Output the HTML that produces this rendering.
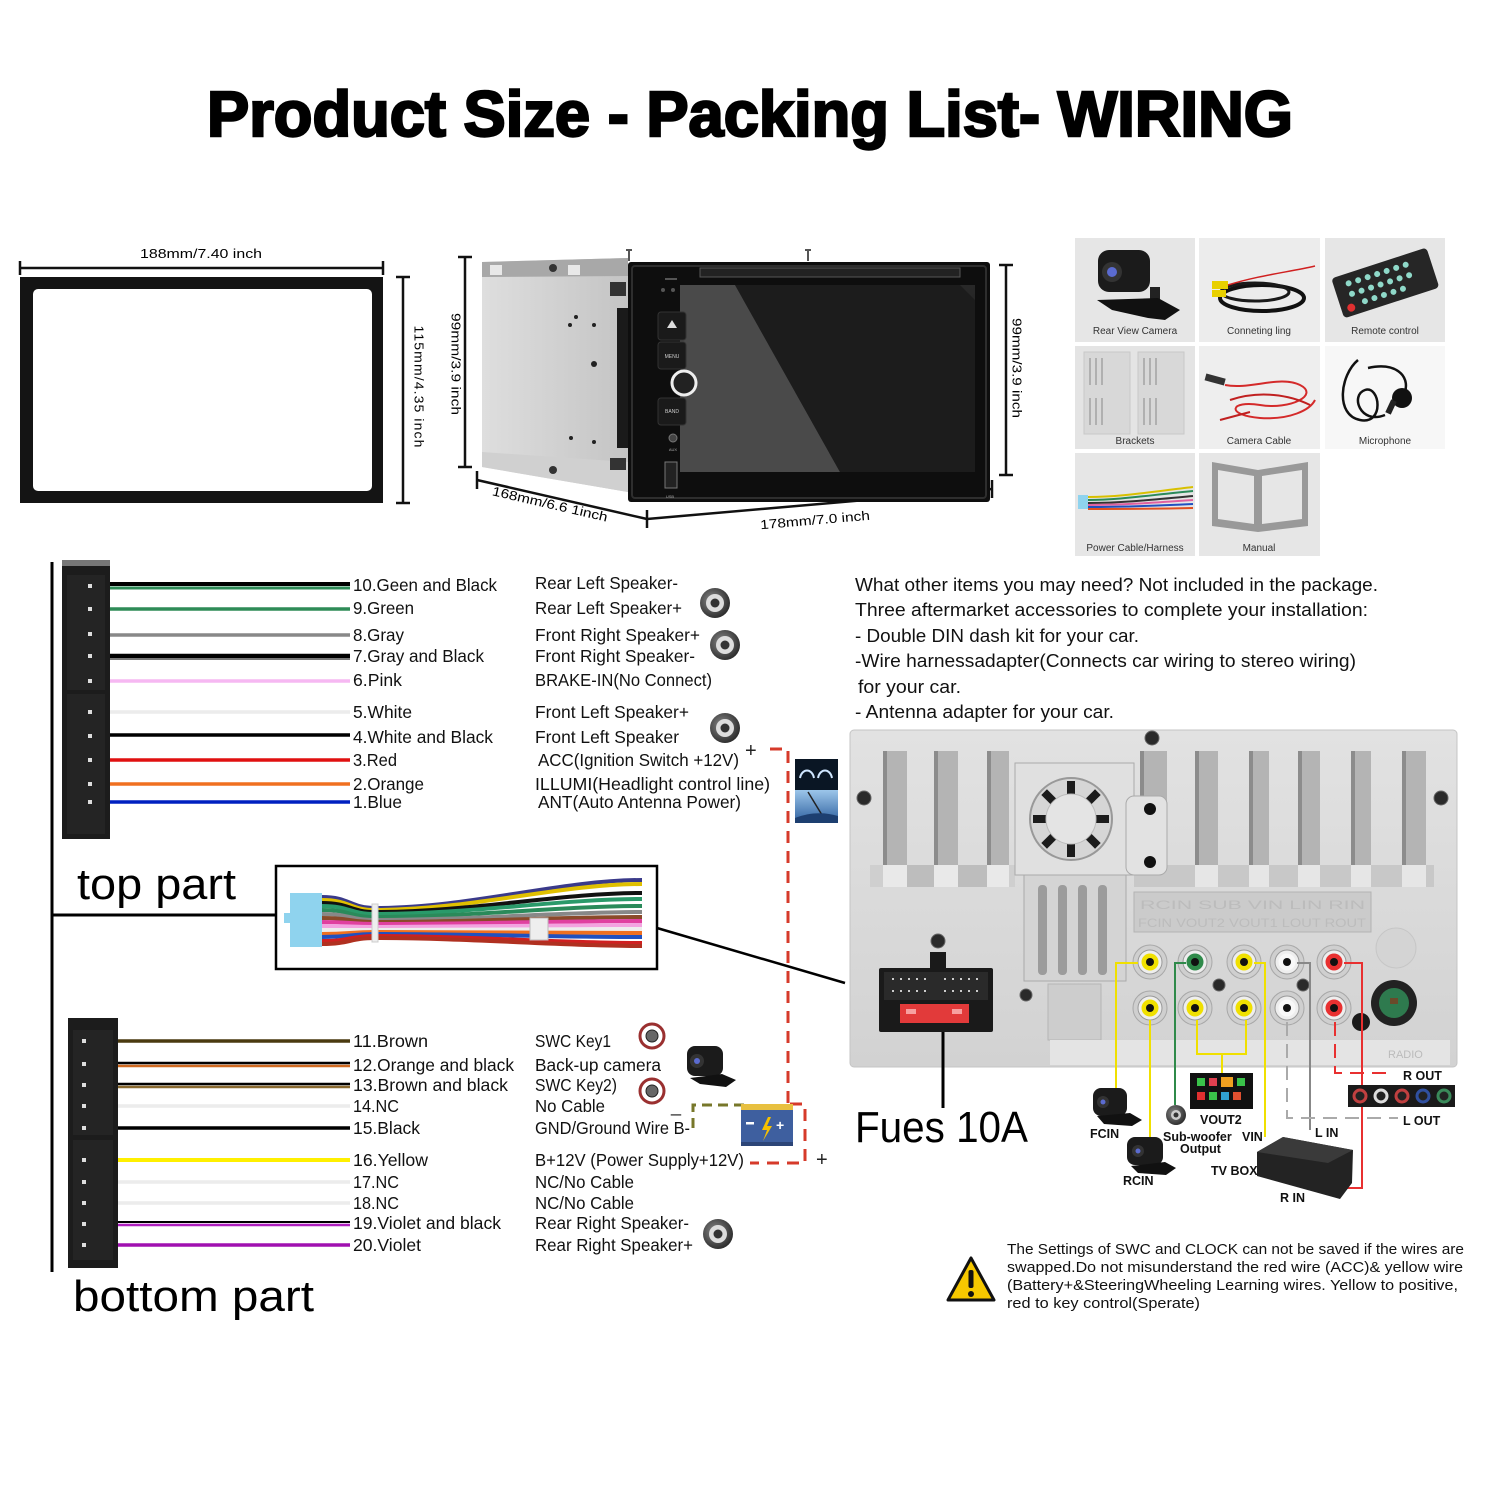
<!DOCTYPE html>
<html><head><meta charset="utf-8"><style>
html,body{margin:0;padding:0;background:#fff;}
svg{display:block}
text{font-family:"Liberation Sans",sans-serif;}
</style></head><body>
<svg width="1500" height="1500" viewBox="0 0 1500 1500" xmlns="http://www.w3.org/2000/svg">
<defs>
<linearGradient id="chas" x1="0" y1="0" x2="1" y2="0"><stop offset="0" stop-color="#dedede"/><stop offset="1" stop-color="#c4c4c4"/></linearGradient>
<linearGradient id="scr" x1="0" y1="0" x2="1" y2="1"><stop offset="0" stop-color="#3a3a3a"/><stop offset="1" stop-color="#151515"/></linearGradient>
<linearGradient id="panel" x1="0" y1="0" x2="0" y2="1"><stop offset="0" stop-color="#e2e2e2"/><stop offset="1" stop-color="#d2d2d2"/></linearGradient>
<linearGradient id="sky" x1="0" y1="0" x2="0" y2="1"><stop offset="0" stop-color="#9cc6ea"/><stop offset="1" stop-color="#2d5f9e"/></linearGradient>
<radialGradient id="spk" cx="0.4" cy="0.4" r="0.7"><stop offset="0" stop-color="#888"/><stop offset="1" stop-color="#222"/></radialGradient>
</defs>

<!-- TITLE -->
<text x="207" y="136" font-size="64" font-weight="bold" stroke="#000" stroke-width="2.4" textLength="1086" lengthAdjust="spacingAndGlyphs">Product Size - Packing List- WIRING</text>

<!-- FRAME -->
<rect x="20" y="277" width="363" height="226" fill="#141414"/>
<rect x="33" y="289" width="339" height="202" rx="5" fill="#fff"/>
<g stroke="#111" stroke-width="2.5">
<line x1="20" y1="268" x2="383" y2="268"/><line x1="20" y1="261" x2="20" y2="275"/><line x1="383" y1="261" x2="383" y2="275"/>
<line x1="403" y1="277" x2="403" y2="503"/><line x1="396" y1="277" x2="410" y2="277"/><line x1="396" y1="503" x2="410" y2="503"/>
<line x1="465" y1="257" x2="465" y2="467"/><line x1="458" y1="257" x2="472" y2="257"/><line x1="458" y1="467" x2="472" y2="467"/>
<line x1="1006" y1="265" x2="1006" y2="475"/><line x1="999" y1="265" x2="1013" y2="265"/><line x1="999" y1="475" x2="1013" y2="475"/>
<line x1="477" y1="480" x2="647" y2="519"/><line x1="477" y1="471" x2="477" y2="489"/>
<line x1="647" y1="519" x2="992" y2="489"/><line x1="647" y1="510" x2="647" y2="528"/><line x1="992" y1="480" x2="992" y2="498"/>
</g>
<text x="201" y="258" font-size="13" text-anchor="middle" textLength="122" lengthAdjust="spacingAndGlyphs">188mm/7.40 inch</text>
<text transform="translate(419,387) rotate(90)" font-size="13" text-anchor="middle" dominant-baseline="central" textLength="123" lengthAdjust="spacingAndGlyphs" letter-spacing="1">115mm/4.35 inch</text>
<text transform="translate(456,364) rotate(90)" font-size="13" text-anchor="middle" dominant-baseline="central" textLength="102" lengthAdjust="spacingAndGlyphs">99mm/3.9 inch</text>
<text transform="translate(1017,368) rotate(90)" font-size="13" text-anchor="middle" dominant-baseline="central" textLength="100" lengthAdjust="spacingAndGlyphs">99mm/3.9 inch</text>
<text transform="translate(550,504) rotate(13)" font-size="13" text-anchor="middle" dominant-baseline="central" textLength="118" lengthAdjust="spacingAndGlyphs">168mm/6.6 1inch</text>
<text transform="translate(815,520) rotate(-5)" font-size="13" text-anchor="middle" dominant-baseline="central" textLength="110" lengthAdjust="spacingAndGlyphs">178mm/7.0 inch</text>

<!-- HEAD UNIT -->
<polygon points="482,262 628,258 628,492 482,467" fill="url(#chas)"/>
<polygon points="482,262 628,258 628,276 482,277" fill="#a8a8a8"/>
<polygon points="482,452 628,462 628,492 482,467" fill="#d0d0d0"/>
<rect x="490" y="265" width="12" height="10" fill="#e8e8e8"/><rect x="568" y="265" width="12" height="10" fill="#e8e8e8"/>
<circle cx="553" cy="268" r="4" fill="#333"/><circle cx="553" cy="470" r="4" fill="#333"/>
<circle cx="576" cy="317" r="2" fill="#222"/><circle cx="570" cy="325" r="2" fill="#222"/><circle cx="594" cy="325" r="2" fill="#222"/><circle cx="594" cy="364" r="3" fill="#222"/><circle cx="571" cy="438" r="2" fill="#222"/><circle cx="594" cy="442" r="2" fill="#222"/>
<rect x="610" y="282" width="16" height="14" fill="#333"/><rect x="610" y="458" width="16" height="12" fill="#333"/>
<rect x="617" y="308" width="12" height="140" fill="#1a1a1a"/>
<rect x="626" y="249" width="6" height="2" fill="#555"/><rect x="628" y="249" width="2" height="12" fill="#555"/>
<rect x="805" y="249" width="6" height="2" fill="#555"/><rect x="807" y="249" width="2" height="12" fill="#555"/>
<rect x="628" y="262" width="362" height="240" rx="3" fill="#0e0e0e"/>
<rect x="632" y="266" width="354" height="232" rx="3" fill="none" stroke="#2e2e2e" stroke-width="2"/>
<rect x="700" y="268" width="260" height="9" fill="#222" stroke="#555" stroke-width="1"/>
<rect x="665" y="278" width="12" height="2" fill="#555"/>
<rect x="680" y="285" width="295" height="187" fill="url(#scr)"/>
<polygon points="680,285 735,285 840,472 680,472" fill="#4a4a4a"/>
<polygon points="735,285 960,285 975,300 975,472 840,472" fill="#1c1c1c"/>
<rect x="658" y="312" width="28" height="28" rx="3" fill="#1a1a1a" stroke="#333"/>
<polygon points="672,320 677,328 667,328" fill="#ddd"/>
<rect x="658" y="342" width="28" height="27" rx="3" fill="#1a1a1a" stroke="#333"/>
<text x="672" y="358" font-size="5" fill="#ccc" text-anchor="middle">MENU</text>
<circle cx="684" cy="383" r="12" fill="#222" stroke="#eee" stroke-width="3"/>
<rect x="658" y="398" width="28" height="27" rx="3" fill="#1a1a1a" stroke="#333"/>
<text x="672" y="413" font-size="5" fill="#ccc" text-anchor="middle">BAND</text>
<circle cx="673" cy="438" r="4" fill="#444" stroke="#777"/>
<text x="673" y="451" font-size="4" fill="#aaa" text-anchor="middle">AUX</text>
<rect x="665" y="462" width="12" height="26" fill="#222" stroke="#777"/>
<text x="670" y="498" font-size="4" fill="#aaa" text-anchor="middle">USB</text>
<circle cx="663" cy="290" r="2" fill="#555"/><circle cx="673" cy="290" r="2" fill="#555"/>

<!-- PACKING LIST -->
<g>
<rect x="1075" y="238" width="120" height="104" fill="#e6e6e6"/>
<rect x="1199" y="238" width="121" height="104" fill="#ececec"/>
<rect x="1325" y="238" width="120" height="104" fill="#e6e6e6"/>
<rect x="1075" y="346" width="120" height="103" fill="#e4e4e4"/>
<rect x="1199" y="346" width="121" height="103" fill="#eeeeee"/>
<rect x="1325" y="346" width="120" height="103" fill="#f7f7f7"/>
<rect x="1075" y="453" width="120" height="103" fill="#e6e6e6"/>
<rect x="1199" y="453" width="121" height="103" fill="#e6e6e6"/>
<!-- camera -->
<rect x="1098" y="250" width="52" height="42" rx="11" fill="#1b1b1b"/>
<circle cx="1112" cy="272" r="10" fill="#333"/><circle cx="1112" cy="272" r="5" fill="#5b6bd0"/>
<rect x="1150" y="287" width="10" height="14" fill="#222"/>
<polygon points="1097,300 1158,298 1180,310 1165,320 1148,318 1112,310" fill="#111"/>
<!-- connecting -->
<ellipse cx="1262" cy="298" rx="42" ry="13" fill="none" stroke="#111" stroke-width="4"/>
<ellipse cx="1255" cy="292" rx="34" ry="9" fill="none" stroke="#1a1a1a" stroke-width="3"/>
<rect x="1212" y="281" width="16" height="8" fill="#e8d000"/><rect x="1212" y="290" width="14" height="7" fill="#e8d000"/>
<path d="M1228,285 C1260,275 1290,272 1315,266" stroke="#d02020" stroke-width="1.5" fill="none"/>
<!-- remote -->
<g transform="rotate(-18 1385 282)">
<rect x="1335" y="262" width="100" height="42" rx="4" fill="#262626"/>
<g fill="#8fd9c9">
<circle cx="1350" cy="272" r="3"/><circle cx="1360" cy="272" r="3"/><circle cx="1370" cy="272" r="3"/><circle cx="1380" cy="272" r="3"/><circle cx="1390" cy="272" r="3"/><circle cx="1400" cy="272" r="3"/><circle cx="1410" cy="272" r="3"/>
<circle cx="1350" cy="283" r="3"/><circle cx="1360" cy="283" r="3"/><circle cx="1370" cy="283" r="3"/><circle cx="1380" cy="283" r="3"/><circle cx="1390" cy="283" r="3"/><circle cx="1400" cy="283" r="3"/><circle cx="1410" cy="283" r="3"/>
<circle cx="1360" cy="294" r="3"/><circle cx="1370" cy="294" r="3"/><circle cx="1380" cy="294" r="3"/><circle cx="1390" cy="294" r="3"/><circle cx="1400" cy="294" r="3"/>
</g><circle cx="1345" cy="296" r="4" fill="#e03030"/>
</g>
<!-- brackets -->
<rect x="1084" y="352" width="46" height="82" fill="#d8d8d8" stroke="#c8c8c8"/>
<rect x="1138" y="352" width="46" height="82" fill="#d8d8d8" stroke="#c8c8c8"/>
<g stroke="#b0b0b0" stroke-width="2">
<line x1="1090" y1="358" x2="1090" y2="385"/><line x1="1096" y1="358" x2="1096" y2="385"/><line x1="1102" y1="358" x2="1102" y2="385"/><line x1="1090" y1="398" x2="1090" y2="425"/><line x1="1096" y1="398" x2="1096" y2="425"/><line x1="1102" y1="398" x2="1102" y2="425"/>
<line x1="1144" y1="358" x2="1144" y2="385"/><line x1="1150" y1="358" x2="1150" y2="385"/><line x1="1156" y1="358" x2="1156" y2="385"/><line x1="1144" y1="398" x2="1144" y2="425"/><line x1="1150" y1="398" x2="1150" y2="425"/><line x1="1156" y1="398" x2="1156" y2="425"/>
</g>
<!-- camera cable -->
<rect x="1205" y="376" width="20" height="7" fill="#333" transform="rotate(15 1215 380)"/>
<path d="M1225,385 C1250,390 1280,375 1300,385 C1320,395 1290,410 1260,405 C1230,400 1225,415 1260,418 C1290,420 1310,410 1315,400" stroke="#d42a2a" stroke-width="2" fill="none"/>
<path d="M1230,400 C1260,390 1290,395 1310,405 M1220,420 L1250,412" stroke="#c02020" stroke-width="2" fill="none"/>
<!-- microphone -->
<path d="M1358,360 C1340,375 1335,415 1360,420 C1385,425 1380,385 1365,390 C1350,395 1360,425 1385,415 M1368,368 C1395,362 1410,375 1405,392" stroke="#111" stroke-width="2.5" fill="none"/>
<circle cx="1402" cy="398" r="10" fill="#111"/><rect x="1388" y="400" width="6" height="14" fill="#222" transform="rotate(25 1391 407)"/>
<!-- harness -->
<rect x="1078" y="495" width="10" height="14" fill="#8fd3ee"/>
<g stroke-width="2" fill="none">
<path d="M1088,497 C1120,497 1150,492 1193,487" stroke="#d8c000"/>
<path d="M1088,500 C1120,500 1150,495 1193,491" stroke="#2a8a5a"/>
<path d="M1088,503 C1120,503 1150,500 1193,496" stroke="#333"/>
<path d="M1088,505 C1120,505 1150,503 1193,500" stroke="#e060a0"/>
<path d="M1088,507 C1120,507 1150,506 1193,504" stroke="#2050c0"/>
<path d="M1088,509 C1120,509 1150,509 1193,508" stroke="#e05020"/>
</g>
<!-- manual -->
<path d="M1212,462 L1258,470 L1308,462 L1308,526 L1258,532 L1212,526 Z" fill="#999"/>
<path d="M1218,470 L1254,476 L1254,524 L1218,519 Z" fill="#e6e6e6"/>
<path d="M1262,476 L1302,470 L1302,519 L1262,524 Z" fill="#e6e6e6"/>
<g font-size="10" fill="#333" text-anchor="middle">
<text x="1135" y="334">Rear View Camera</text>
<text x="1259" y="334">Conneting ling</text>
<text x="1385" y="334">Remote control</text>
<text x="1135" y="444">Brackets</text>
<text x="1259" y="444">Camera Cable</text>
<text x="1385" y="444">Microphone</text>
<text x="1135" y="551">Power Cable/Harness</text>
<text x="1259" y="551">Manual</text>
</g>
</g>

<!-- WIRING LEFT -->
<line x1="52" y1="562" x2="52" y2="1272" stroke="#000" stroke-width="3"/>
<line x1="52" y1="915" x2="276" y2="915" stroke="#000" stroke-width="3"/>
<rect x="62" y="560" width="48" height="279" fill="#1c1c1c"/>
<rect x="62" y="560" width="48" height="6" fill="#777"/>
<rect x="67" y="575" width="38" height="115" fill="#242424"/>
<rect x="67" y="694" width="38" height="140" fill="#242424"/>
<g fill="#ddd">
<rect x="88" y="584" width="4" height="4"/><rect x="88" y="607" width="4" height="4"/><rect x="88" y="632" width="4" height="4"/><rect x="88" y="654" width="4" height="4"/><rect x="88" y="679" width="4" height="4"/><rect x="88" y="710" width="4" height="4"/><rect x="88" y="734" width="4" height="4"/><rect x="88" y="758" width="4" height="4"/><rect x="88" y="782" width="4" height="4"/><rect x="88" y="800" width="4" height="4"/>
</g>
<g fill="none">
<line x1="110" y1="584" x2="350" y2="584" stroke="#000" stroke-width="4"/>
<line x1="110" y1="588" x2="350" y2="588" stroke="#2e8b57" stroke-width="3"/>
<line x1="110" y1="609" x2="350" y2="609" stroke="#2e8b57" stroke-width="3.5"/>
<line x1="110" y1="635" x2="350" y2="635" stroke="#888" stroke-width="3.5"/>
<line x1="110" y1="656" x2="350" y2="656" stroke="#000" stroke-width="4.5"/>
<line x1="110" y1="659" x2="350" y2="659" stroke="#777" stroke-width="2"/>
<line x1="110" y1="681" x2="350" y2="681" stroke="#f6b8f2" stroke-width="3.5"/>
<line x1="110" y1="712" x2="350" y2="712" stroke="#ececec" stroke-width="3.5"/>
<line x1="110" y1="735" x2="350" y2="735" stroke="#000" stroke-width="3.5"/>
<line x1="110" y1="760" x2="350" y2="760" stroke="#e01010" stroke-width="3.5"/>
<line x1="110" y1="784" x2="350" y2="784" stroke="#f07020" stroke-width="3.5"/>
<line x1="110" y1="802" x2="350" y2="802" stroke="#0020c0" stroke-width="3.5"/>
</g>
<g font-size="17.5" fill="#111">
<text x="353" y="591" textLength="144" lengthAdjust="spacingAndGlyphs">10.Geen and Black</text>
<text x="353" y="614" textLength="61" lengthAdjust="spacingAndGlyphs">9.Green</text>
<text x="353" y="641" textLength="51" lengthAdjust="spacingAndGlyphs">8.Gray</text>
<text x="353" y="662" textLength="131" lengthAdjust="spacingAndGlyphs">7.Gray and Black</text>
<text x="353" y="686" textLength="49" lengthAdjust="spacingAndGlyphs">6.Pink</text>
<text x="353" y="718" textLength="59" lengthAdjust="spacingAndGlyphs">5.White</text>
<text x="353" y="743" textLength="140" lengthAdjust="spacingAndGlyphs">4.White and Black</text>
<text x="353" y="766" textLength="44" lengthAdjust="spacingAndGlyphs">3.Red</text>
<text x="353" y="790" textLength="71" lengthAdjust="spacingAndGlyphs">2.Orange</text>
<text x="353" y="808" textLength="49" lengthAdjust="spacingAndGlyphs">1.Blue</text>
<text x="535" y="589" textLength="143" lengthAdjust="spacingAndGlyphs">Rear Left Speaker-</text>
<text x="535" y="614" textLength="147" lengthAdjust="spacingAndGlyphs">Rear Left Speaker+</text>
<text x="535" y="641" textLength="165" lengthAdjust="spacingAndGlyphs">Front Right Speaker+</text>
<text x="535" y="662" textLength="160" lengthAdjust="spacingAndGlyphs">Front Right Speaker-</text>
<text x="535" y="686" textLength="177" lengthAdjust="spacingAndGlyphs">BRAKE-IN(No Connect)</text>
<text x="535" y="718" textLength="154" lengthAdjust="spacingAndGlyphs">Front Left Speaker+</text>
<text x="535" y="743" textLength="144" lengthAdjust="spacingAndGlyphs">Front Left Speaker</text>
<text x="538" y="766" textLength="201" lengthAdjust="spacingAndGlyphs">ACC(Ignition Switch +12V)</text>
<text x="535" y="790" textLength="235" lengthAdjust="spacingAndGlyphs">ILLUMI(Headlight control line)</text>
<text x="538" y="808" textLength="203" lengthAdjust="spacingAndGlyphs">ANT(Auto Antenna Power)</text>
</g>
<!-- speaker icons -->
<g>
<circle cx="715" cy="603" r="15" fill="url(#spk)"/><circle cx="715" cy="603" r="9" fill="#ddd"/><circle cx="715" cy="603" r="4.5" fill="#333"/>
<circle cx="725" cy="645" r="15" fill="url(#spk)"/><circle cx="725" cy="645" r="9" fill="#ddd"/><circle cx="725" cy="645" r="4.5" fill="#333"/>
<circle cx="725" cy="728" r="15" fill="url(#spk)"/><circle cx="725" cy="728" r="9" fill="#ddd"/><circle cx="725" cy="728" r="4.5" fill="#333"/>
<circle cx="718" cy="1234" r="15" fill="url(#spk)"/><circle cx="718" cy="1234" r="9" fill="#ddd"/><circle cx="718" cy="1234" r="4.5" fill="#333"/>
</g>
<text x="745" y="757" font-size="20" fill="#222">+</text>
<!-- illumi/antenna -->
<rect x="795" y="759" width="43" height="31" fill="#0a1624"/>
<path d="M800,778 C802,768 812,768 814,778 M818,778 C820,768 830,768 832,778" stroke="#cfe6ff" stroke-width="2" fill="none"/>
<rect x="795" y="790" width="43" height="33" fill="url(#sky)"/>
<line x1="808" y1="792" x2="822" y2="815" stroke="#222" stroke-width="1.5"/>
<path d="M795,818 C810,812 825,812 838,816 L838,823 L795,823 Z" fill="#1d3f70"/>

<!-- top part / harness box -->
<text x="77" y="899" font-size="44" textLength="159" lengthAdjust="spacingAndGlyphs">top part</text>
<rect x="276" y="866" width="381" height="103" fill="#fff" stroke="#000" stroke-width="2.5"/>
<g fill="none" stroke-width="4">
<path d="M322,897 C350,897 350,908 375,908 C470,908 560,880 642,880" stroke="#3a3a8a"/>
<path d="M322,900 C350,900 350,910 375,910 C470,910 560,884 642,884" stroke="#e0c000"/>
<path d="M322,903 C350,903 350,912 375,912 C470,912 560,893 642,893" stroke="#111"/>
<path d="M322,906 C350,906 350,914 375,914 C470,914 560,899 642,899" stroke="#2a9a6a"/>
<path d="M322,910 C350,910 350,917 375,917 C470,917 560,906 642,906" stroke="#2a8a5a"/>
<path d="M322,914 C350,914 350,920 375,920 C470,920 560,912 642,912" stroke="#888"/>
<path d="M322,918 C350,918 350,922 375,922 C470,922 560,917 642,917" stroke="#8a4a2a"/>
<path d="M322,922 C350,922 350,924 375,924 C470,924 560,921 642,921" stroke="#e040a0"/>
<path d="M322,926 C350,926 350,927 375,927 C470,927 560,925 642,925" stroke="#f3a3e0"/>
<path d="M322,930 C350,930 350,930 375,930 C470,930 560,929 642,929" stroke="#eee"/>
<path d="M322,934 C350,934 350,932 375,932 C470,932 560,933 642,933" stroke="#f07020"/>
<path d="M322,937 C350,937 350,934 375,934 C470,934 560,937 642,937" stroke="#2050c0"/>
<path d="M322,941 C350,941 350,936 375,936 C470,936 560,943 642,943" stroke="#d02020"/>
<path d="M322,944 C350,944 350,938 375,938 C470,938 560,946 642,946" stroke="#b03020"/>
</g>
<rect x="290" y="893" width="32" height="54" fill="#8fd3ee"/>
<rect x="284" y="913" width="8" height="10" fill="#8fd3ee"/>
<rect x="372" y="904" width="6" height="38" fill="#eee" stroke="#ccc"/>
<rect x="530" y="918" width="18" height="22" fill="#eee" stroke="#bbb"/>
<line x1="657" y1="928" x2="845" y2="983" stroke="#000" stroke-width="2.5"/>

<!-- red dashed power -->
<g fill="none" stroke="#d63a2a" stroke-width="3" stroke-dasharray="12 8">
<path d="M770,749 L788,749 L788,1105"/>
<path d="M790,1104 L805,1104 L805,1163 L750,1163"/>
</g>
<path d="M693,1128 L693,1105 L745,1105" fill="none" stroke="#77772a" stroke-width="3" stroke-dasharray="10 6"/>
<text x="816" y="1166" font-size="20" fill="#222">+</text>
<text x="671" y="1112" font-size="18" fill="#222">_</text>
<!-- battery -->
<rect x="741" y="1104" width="52" height="6" fill="#e8c040"/>
<rect x="741" y="1110" width="52" height="36" fill="#3e5f9f"/>
<rect x="741" y="1142" width="52" height="4" fill="#2c4577"/>
<rect x="746" y="1122" width="8" height="2.5" fill="#fff"/>
<text x="776" y="1130" font-size="14" font-weight="bold" fill="#fff">+</text>
<polygon points="768,1117 762,1130 767,1130 763,1141 772,1126 767,1126 771,1117" fill="#f5c000"/>

<!-- bottom connector -->
<rect x="68" y="1018" width="50" height="250" fill="#1c1c1c"/>
<rect x="73" y="1030" width="40" height="105" fill="#242424"/>
<rect x="73" y="1140" width="40" height="120" fill="#242424"/>
<g fill="#ddd">
<rect x="82" y="1039" width="4" height="4"/><rect x="82" y="1062" width="4" height="4"/><rect x="82" y="1083" width="4" height="4"/><rect x="82" y="1104" width="4" height="4"/><rect x="82" y="1126" width="4" height="4"/><rect x="82" y="1158" width="4" height="4"/><rect x="82" y="1180" width="4" height="4"/><rect x="82" y="1201" width="4" height="4"/><rect x="82" y="1222" width="4" height="4"/><rect x="82" y="1243" width="4" height="4"/>
</g>
<g fill="none">
<line x1="118" y1="1041" x2="350" y2="1041" stroke="#4a3a10" stroke-width="3.5"/>
<line x1="118" y1="1063" x2="350" y2="1063" stroke="#000" stroke-width="2.5"/>
<line x1="118" y1="1066" x2="350" y2="1066" stroke="#d06a20" stroke-width="2.5"/>
<line x1="118" y1="1084" x2="350" y2="1084" stroke="#000" stroke-width="2.5"/>
<line x1="118" y1="1087" x2="350" y2="1087" stroke="#8a6a30" stroke-width="2.5"/>
<line x1="118" y1="1106" x2="350" y2="1106" stroke="#ececec" stroke-width="3.5"/>
<line x1="118" y1="1128" x2="350" y2="1128" stroke="#000" stroke-width="3.5"/>
<line x1="118" y1="1160" x2="350" y2="1160" stroke="#fff000" stroke-width="4"/>
<line x1="118" y1="1182" x2="350" y2="1182" stroke="#ececec" stroke-width="3.5"/>
<line x1="118" y1="1203" x2="350" y2="1203" stroke="#ececec" stroke-width="3.5"/>
<line x1="118" y1="1222" x2="350" y2="1222" stroke="#000" stroke-width="2"/>
<line x1="118" y1="1225" x2="350" y2="1225" stroke="#b020c0" stroke-width="2.5"/>
<line x1="118" y1="1245" x2="350" y2="1245" stroke="#a010b0" stroke-width="3.5"/>
</g>
<g font-size="17.5" fill="#111">
<text x="353" y="1047" textLength="75" lengthAdjust="spacingAndGlyphs">11.Brown</text>
<text x="353" y="1071" textLength="161" lengthAdjust="spacingAndGlyphs">12.Orange and black</text>
<text x="353" y="1091" textLength="155" lengthAdjust="spacingAndGlyphs">13.Brown and black</text>
<text x="353" y="1112" textLength="46" lengthAdjust="spacingAndGlyphs">14.NC</text>
<text x="353" y="1134" textLength="67" lengthAdjust="spacingAndGlyphs">15.Black</text>
<text x="353" y="1166" textLength="75" lengthAdjust="spacingAndGlyphs">16.Yellow</text>
<text x="353" y="1188" textLength="46" lengthAdjust="spacingAndGlyphs">17.NC</text>
<text x="353" y="1209" textLength="46" lengthAdjust="spacingAndGlyphs">18.NC</text>
<text x="353" y="1229" textLength="148" lengthAdjust="spacingAndGlyphs">19.Violet and black</text>
<text x="353" y="1251" textLength="68" lengthAdjust="spacingAndGlyphs">20.Violet</text>
<text x="535" y="1047" textLength="76" lengthAdjust="spacingAndGlyphs">SWC Key1</text>
<text x="535" y="1071" textLength="126" lengthAdjust="spacingAndGlyphs">Back-up camera</text>
<text x="535" y="1091" textLength="82" lengthAdjust="spacingAndGlyphs">SWC Key2)</text>
<text x="535" y="1112" textLength="70" lengthAdjust="spacingAndGlyphs">No Cable</text>
<text x="535" y="1134" textLength="155" lengthAdjust="spacingAndGlyphs">GND/Ground Wire B-</text>
<text x="535" y="1166" textLength="209" lengthAdjust="spacingAndGlyphs">B+12V (Power Supply+12V)</text>
<text x="535" y="1188" textLength="99" lengthAdjust="spacingAndGlyphs">NC/No Cable</text>
<text x="535" y="1209" textLength="99" lengthAdjust="spacingAndGlyphs">NC/No Cable</text>
<text x="535" y="1229" textLength="154" lengthAdjust="spacingAndGlyphs">Rear Right Speaker-</text>
<text x="535" y="1251" textLength="158" lengthAdjust="spacingAndGlyphs">Rear Right Speaker+</text>
</g>
<!-- SWC icons -->
<circle cx="652" cy="1036" r="12" fill="#fff" stroke="#9a3030" stroke-width="3"/><circle cx="652" cy="1036" r="6" fill="#666" stroke="#222"/>
<circle cx="652" cy="1091" r="12" fill="#fff" stroke="#9a3030" stroke-width="3"/><circle cx="652" cy="1091" r="6" fill="#666" stroke="#222"/>
<!-- backup camera -->
<rect x="687" y="1046" width="36" height="30" rx="8" fill="#1b1b1b"/>
<circle cx="697" cy="1061" r="7" fill="#333"/><circle cx="697" cy="1061" r="3" fill="#5b6bd0"/>
<polygon points="690,1078 722,1074 736,1080 726,1087 700,1084" fill="#111"/>
<text x="73" y="1311" font-size="44" textLength="241" lengthAdjust="spacingAndGlyphs">bottom part</text>

<!-- RIGHT TEXT -->
<g font-size="18.5" fill="#111">
<text x="855" y="591" textLength="523" lengthAdjust="spacingAndGlyphs">What other items you may need? Not included in the package.</text>
<text x="855" y="616" textLength="513" lengthAdjust="spacingAndGlyphs">Three aftermarket accessories to complete your installation:</text>
<text x="855" y="642" textLength="284" lengthAdjust="spacingAndGlyphs">- Double DIN dash kit for your car.</text>
<text x="855" y="667" textLength="501" lengthAdjust="spacingAndGlyphs">-Wire harnessadapter(Connects car wiring to stereo wiring)</text>
<text x="858" y="693" textLength="103" lengthAdjust="spacingAndGlyphs">for your car.</text>
<text x="855" y="718" textLength="259" lengthAdjust="spacingAndGlyphs">- Antenna adapter for your car.</text>
</g>

<!-- BACK PANEL -->
<rect x="850" y="730" width="607" height="337" rx="4" fill="url(#panel)" stroke="#c4c4c4"/>
<g>
<rect x="883" y="751" width="24" height="114" fill="#b4b4b4"/><rect x="883" y="751" width="4" height="114" fill="#8c8c8c"/>
<rect x="934" y="751" width="24" height="114" fill="#b4b4b4"/><rect x="934" y="751" width="4" height="114" fill="#8c8c8c"/>
<rect x="987" y="751" width="22" height="114" fill="#b4b4b4"/><rect x="987" y="751" width="4" height="114" fill="#8c8c8c"/>
<rect x="870" y="865" width="145" height="22" fill="#cfcfcf"/>
<rect x="883" y="865" width="24" height="22" fill="#e9e9e9"/><rect x="934" y="865" width="24" height="22" fill="#e9e9e9"/><rect x="987" y="865" width="22" height="22" fill="#e9e9e9"/>
<rect x="907" y="865" width="27" height="22" fill="#bdbdbd"/><rect x="958" y="865" width="29" height="22" fill="#bdbdbd"/>
<rect x="1140" y="751" width="27" height="114" fill="#b4b4b4"/><rect x="1140" y="751" width="4" height="114" fill="#8c8c8c"/>
<rect x="1195" y="751" width="23" height="114" fill="#b4b4b4"/><rect x="1195" y="751" width="4" height="114" fill="#8c8c8c"/>
<rect x="1249" y="751" width="20" height="114" fill="#b4b4b4"/><rect x="1249" y="751" width="4" height="114" fill="#8c8c8c"/>
<rect x="1298" y="751" width="22" height="114" fill="#b4b4b4"/><rect x="1298" y="751" width="4" height="114" fill="#8c8c8c"/>
<rect x="1351" y="751" width="20" height="114" fill="#b4b4b4"/><rect x="1351" y="751" width="4" height="114" fill="#8c8c8c"/>
<rect x="1402" y="751" width="24" height="114" fill="#b4b4b4"/><rect x="1402" y="751" width="4" height="114" fill="#8c8c8c"/>
<rect x="1134" y="865" width="300" height="22" fill="#c8c8c8"/>
<rect x="1195" y="865" width="23" height="22" fill="#e6e6e6"/><rect x="1249" y="865" width="20" height="22" fill="#e6e6e6"/><rect x="1298" y="865" width="22" height="22" fill="#e6e6e6"/><rect x="1351" y="865" width="20" height="22" fill="#e6e6e6"/><rect x="1402" y="865" width="24" height="22" fill="#e6e6e6"/>
<rect x="1015" y="763" width="119" height="112" fill="#e0e0e0" stroke="#aaa"/>
<circle cx="1071" cy="819" r="41" fill="#d6d6d6" stroke="#999" stroke-width="2"/>
<g transform="translate(1071,819)" fill="#1c1c1c">
<rect x="-4" y="-38" width="8" height="13"/><rect x="-4" y="-38" width="8" height="13" transform="rotate(45)"/><rect x="-4" y="-38" width="8" height="13" transform="rotate(90)"/><rect x="-4" y="-38" width="8" height="13" transform="rotate(135)"/><rect x="-4" y="-38" width="8" height="13" transform="rotate(180)"/><rect x="-4" y="-38" width="8" height="13" transform="rotate(225)"/><rect x="-4" y="-38" width="8" height="13" transform="rotate(270)"/><rect x="-4" y="-38" width="8" height="13" transform="rotate(315)"/>
</g>
<circle cx="1071" cy="819" r="25" fill="#e4e4e4" stroke="#bbb"/>
<rect x="1126" y="796" width="41" height="79" rx="8" fill="#e2e2e2" stroke="#aaa"/>
<circle cx="1150" cy="809" r="6" fill="#111"/><circle cx="1150" cy="862" r="6" fill="#111"/>
<rect x="1024" y="875" width="102" height="106" fill="#d4d4d4" stroke="#aaa"/>
<rect x="1038" y="885" width="9" height="90" rx="4" fill="#9c9c9c"/><rect x="1058" y="885" width="9" height="90" rx="4" fill="#9c9c9c"/><rect x="1078" y="885" width="9" height="90" rx="4" fill="#9c9c9c"/><rect x="1098" y="885" width="9" height="90" rx="4" fill="#9c9c9c"/>
<rect x="1048" y="984" width="53" height="56" fill="#cdcdcd" stroke="#b5b5b5"/>
<rect x="1134" y="892" width="237" height="40" fill="#cbcbcb" stroke="#b3b3b3"/>
<text x="1140" y="909" font-size="12" fill="#bcbcbc" textLength="225" lengthAdjust="spacingAndGlyphs">RCIN   SUB    VIN    LIN    RIN</text>
<text x="1138" y="927" font-size="12" fill="#bcbcbc" textLength="228" lengthAdjust="spacingAndGlyphs">FCIN VOUT2 VOUT1 LOUT ROUT</text>
<circle cx="1396" cy="948" r="20" fill="#d4d4d4" stroke="#c6c6c6"/>
<rect x="1050" y="1040" width="400" height="25" fill="#e4e4e4"/>
<text x="1388" y="1058" font-size="11" fill="#bbb">RADIO</text>
<g fill="#2a2a2a" stroke="#666"><circle cx="864" cy="798" r="7"/><circle cx="1152" cy="738" r="7"/><circle cx="1441" cy="798" r="7"/><circle cx="938" cy="941" r="7"/><circle cx="1026" cy="995" r="6"/><circle cx="1219" cy="985" r="6"/><circle cx="1303" cy="985" r="6"/></g>
<rect x="930" y="952" width="16" height="18" fill="#1a1a1a"/>
<rect x="879" y="968" width="114" height="64" rx="2" fill="#1a1a1a"/>
<rect x="884" y="972" width="104" height="28" fill="#2a2a2a"/>
<g fill="#ccc"><rect x="892" y="978" width="2" height="2"/><rect x="900" y="978" width="2" height="2"/><rect x="908" y="978" width="2" height="2"/><rect x="916" y="978" width="2" height="2"/><rect x="924" y="978" width="2" height="2"/><rect x="944" y="978" width="2" height="2"/><rect x="952" y="978" width="2" height="2"/><rect x="960" y="978" width="2" height="2"/><rect x="968" y="978" width="2" height="2"/><rect x="976" y="978" width="2" height="2"/>
<rect x="892" y="990" width="2" height="2"/><rect x="900" y="990" width="2" height="2"/><rect x="908" y="990" width="2" height="2"/><rect x="916" y="990" width="2" height="2"/><rect x="924" y="990" width="2" height="2"/><rect x="944" y="990" width="2" height="2"/><rect x="952" y="990" width="2" height="2"/><rect x="960" y="990" width="2" height="2"/><rect x="968" y="990" width="2" height="2"/><rect x="976" y="990" width="2" height="2"/></g>
<rect x="900" y="1004" width="69" height="19" fill="#e23a3a"/>
<rect x="906" y="1009" width="10" height="5" fill="#f7a0a0"/><rect x="952" y="1009" width="10" height="5" fill="#f7a0a0"/>
<g>
<circle cx="1150" cy="962" r="17" fill="#cfcfcf" stroke="#a8a8a8"/><circle cx="1150" cy="962" r="12" fill="#eee" stroke="#999"/><circle cx="1150" cy="962" r="8.5" fill="#f0e000"/><circle cx="1150" cy="962" r="4" fill="#111"/>
<circle cx="1195" cy="962" r="17" fill="#cfcfcf" stroke="#a8a8a8"/><circle cx="1195" cy="962" r="12" fill="#eee" stroke="#999"/><circle cx="1195" cy="962" r="8.5" fill="#2f8a4a"/><circle cx="1195" cy="962" r="4" fill="#111"/>
<circle cx="1244" cy="962" r="17" fill="#cfcfcf" stroke="#a8a8a8"/><circle cx="1244" cy="962" r="12" fill="#eee" stroke="#999"/><circle cx="1244" cy="962" r="8.5" fill="#f0e000"/><circle cx="1244" cy="962" r="4" fill="#111"/>
<circle cx="1287" cy="962" r="17" fill="#cfcfcf" stroke="#a8a8a8"/><circle cx="1287" cy="962" r="12" fill="#eee" stroke="#999"/><circle cx="1287" cy="962" r="8.5" fill="#f8f8f8"/><circle cx="1287" cy="962" r="4" fill="#111"/>
<circle cx="1334" cy="962" r="17" fill="#cfcfcf" stroke="#a8a8a8"/><circle cx="1334" cy="962" r="12" fill="#eee" stroke="#999"/><circle cx="1334" cy="962" r="8.5" fill="#e83030"/><circle cx="1334" cy="962" r="4" fill="#111"/>
<circle cx="1150" cy="1008" r="17" fill="#cfcfcf" stroke="#a8a8a8"/><circle cx="1150" cy="1008" r="12" fill="#eee" stroke="#999"/><circle cx="1150" cy="1008" r="8.5" fill="#f0e000"/><circle cx="1150" cy="1008" r="4" fill="#111"/>
<circle cx="1195" cy="1008" r="17" fill="#cfcfcf" stroke="#a8a8a8"/><circle cx="1195" cy="1008" r="12" fill="#eee" stroke="#999"/><circle cx="1195" cy="1008" r="8.5" fill="#f0e000"/><circle cx="1195" cy="1008" r="4" fill="#111"/>
<circle cx="1244" cy="1008" r="17" fill="#cfcfcf" stroke="#a8a8a8"/><circle cx="1244" cy="1008" r="12" fill="#eee" stroke="#999"/><circle cx="1244" cy="1008" r="8.5" fill="#f0e000"/><circle cx="1244" cy="1008" r="4" fill="#111"/>
<circle cx="1287" cy="1008" r="17" fill="#cfcfcf" stroke="#a8a8a8"/><circle cx="1287" cy="1008" r="12" fill="#eee" stroke="#999"/><circle cx="1287" cy="1008" r="8.5" fill="#f8f8f8"/><circle cx="1287" cy="1008" r="4" fill="#111"/>
<circle cx="1334" cy="1008" r="17" fill="#cfcfcf" stroke="#a8a8a8"/><circle cx="1334" cy="1008" r="12" fill="#eee" stroke="#999"/><circle cx="1334" cy="1008" r="8.5" fill="#e83030"/><circle cx="1334" cy="1008" r="4" fill="#111"/>
<circle cx="1394" cy="1003" r="23" fill="#222"/><circle cx="1394" cy="1003" r="15" fill="#2e7a4e"/><rect x="1390" y="998" width="8" height="6" fill="#6a4a2a"/>
<circle cx="1361" cy="1022" r="9" fill="#1a1a1a"/>
</g>
</g>
<line x1="943" y1="1032" x2="943" y2="1108" stroke="#000" stroke-width="3"/>
<text x="855" y="1142" font-size="44" textLength="173" lengthAdjust="spacingAndGlyphs">Fues 10A</text>

<!-- connection lines -->
<g fill="none" stroke-width="2">
<path d="M1138,963 L1116,963 L1116,1090" stroke="#f0e000"/>
<path d="M1150,1020 L1150,1140" stroke="#f0e000"/>
<path d="M1186,963 L1175,963 L1175,1105" stroke="#2f8a4a"/>
<path d="M1197,1020 L1197,1054 L1246,1054 L1246,1020 M1222,1054 L1222,1075" stroke="#f0e000"/>
<path d="M1254,963 L1265,963 L1265,1137" stroke="#f0e000"/>
<path d="M1297,963 L1310,963 L1310,1130" stroke="#888"/>
<path d="M1287,1022 L1287,1118 L1398,1118" stroke="#aaa" stroke-dasharray="14 8"/>
<path d="M1335,1022 L1335,1073 L1392,1073" stroke="#e83030" stroke-dasharray="14 8"/>
<path d="M1344,963 L1362,963 L1362,1188 L1343,1188" stroke="#e83030"/>
</g>
<rect x="1348" y="1085" width="107" height="22" fill="#1a1a1a"/>
<g stroke-width="3" fill="#222">
<circle cx="1360" cy="1096" r="6" stroke="#c04040"/><circle cx="1381" cy="1096" r="6" stroke="#ddd"/><circle cx="1402" cy="1096" r="6" stroke="#c04040"/><circle cx="1423" cy="1096" r="6" stroke="#3050a0"/><circle cx="1444" cy="1096" r="6" stroke="#3a8a5a"/>
</g>
<rect x="1190" y="1073" width="63" height="36" fill="#111"/>
<g><rect x="1197" y="1078" width="8" height="8" fill="#3ac24a"/><rect x="1209" y="1078" width="8" height="8" fill="#e04050"/><rect x="1221" y="1077" width="12" height="10" fill="#f0a020"/><rect x="1237" y="1078" width="8" height="8" fill="#3ac24a"/>
<rect x="1197" y="1092" width="8" height="8" fill="#e03030"/><rect x="1209" y="1092" width="8" height="8" fill="#3ac24a"/><rect x="1221" y="1092" width="8" height="8" fill="#30a0d0"/><rect x="1233" y="1092" width="8" height="8" fill="#e05030"/></g>
<rect x="1093" y="1088" width="34" height="28" rx="8" fill="#1b1b1b"/><circle cx="1103" cy="1102" r="6" fill="#333"/><circle cx="1103" cy="1102" r="2.5" fill="#5b6bd0"/>
<polygon points="1097,1116 1130,1113 1142,1120 1132,1126 1104,1124" fill="#111"/>
<rect x="1127" y="1137" width="36" height="28" rx="8" fill="#1b1b1b"/><circle cx="1138" cy="1151" r="6" fill="#333"/><circle cx="1138" cy="1151" r="2.5" fill="#5b6bd0"/>
<polygon points="1131,1166 1165,1162 1176,1168 1166,1175 1138,1173" fill="#111"/>
<circle cx="1176" cy="1115" r="10" fill="url(#spk)"/><circle cx="1176" cy="1115" r="5" fill="#ccc"/><circle cx="1176" cy="1115" r="2.5" fill="#333"/>
<polygon points="1257,1152 1283,1137 1353,1150 1352,1183 1340,1199 1257,1176" fill="#232323"/>
<polygon points="1257,1152 1283,1137 1353,1150 1328,1163" fill="#3a3a3a"/>
<g font-size="12.5" font-weight="bold" fill="#111">
<text x="1403" y="1080">R OUT</text>
<text x="1403" y="1125">L OUT</text>
<text x="1090" y="1138">FCIN</text>
<text x="1200" y="1124">VOUT2</text>
<text x="1163" y="1141">Sub-woofer</text>
<text x="1180" y="1153">Output</text>
<text x="1242" y="1141">VIN</text>
<text x="1315" y="1137">L IN</text>
<text x="1211" y="1175">TV BOX</text>
<text x="1123" y="1185">RCIN</text>
<text x="1280" y="1202">R IN</text>
</g>

<!-- WARNING -->
<polygon points="971,1258 994,1300 948,1300" fill="#f6c800" stroke="#111" stroke-width="3" stroke-linejoin="round"/>
<rect x="968.5" y="1270" width="5" height="18" rx="2" fill="#111"/>
<circle cx="971" cy="1294" r="3" fill="#111"/>
<g font-size="14.5" fill="#111">
<text x="1007" y="1254" textLength="457" lengthAdjust="spacingAndGlyphs">The Settings of SWC and CLOCK can not be saved if the wires are</text>
<text x="1007" y="1272" textLength="456" lengthAdjust="spacingAndGlyphs">swapped.Do not misunderstand the red wire (ACC)&amp; yellow wire</text>
<text x="1007" y="1290" textLength="451" lengthAdjust="spacingAndGlyphs">(Battery+&amp;SteeringWheeling Learning wires. Yellow to positive,</text>
<text x="1007" y="1308" textLength="193" lengthAdjust="spacingAndGlyphs">red to key control(Sperate)</text>
</g>
</svg>
</body></html>
